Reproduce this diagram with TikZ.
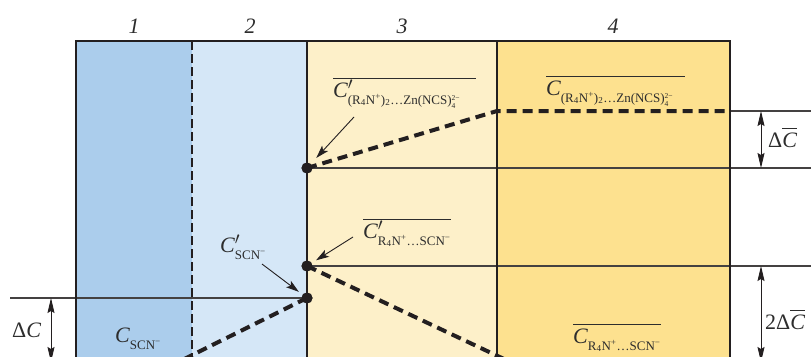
\documentclass[tikz,border=0pt]{standalone}
\usepackage{fontspec}
\setmainfont{Liberation Serif}
\usetikzlibrary{arrows.meta}
\definecolor{colA}{RGB}{171,205,236}
\definecolor{colB}{RGB}{213,231,247}
\definecolor{colC}{RGB}{253,240,201}
\definecolor{colD}{RGB}{253,225,143}
\definecolor{ink}{RGB}{35,31,32}
\definecolor{txt}{RGB}{45,45,45}
\newcommand{\bigf}{\fontsize{22}{24}\selectfont}
\newcommand{\subf}{\fontsize{13}{14}\selectfont}
\newcommand{\Cs}{{\itshape C}}
\newcommand{\pr}{\rlap{\smash{\raisebox{-2pt}{\fontsize{27}{27}\selectfont$'$}}}}
\newcommand{\lowsub}[1]{\raisebox{-7pt}{\subf #1}}
\newcommand{\ovl}[1]{\vbox{\hrule height 0.8pt\kern 4pt\hbox{#1}}}
\newcommand{\stk}{\raisebox{-4.5pt}{\fontsize{7.5}{7}\selectfont\shortstack[l]{2−\\4}}}
\begin{document}
\begin{tikzpicture}[x=1pt,y=-1pt,
  lab/.style={inner sep=0pt, anchor=base west, text=txt, font=\bigf},
  num/.style={inner sep=0pt, anchor=base, text=txt, font=\bigf\itshape},
  dot/.style={circle, fill=ink, inner sep=0pt, minimum size=11pt},
  thin/.style={draw=ink!85, line width=1.1pt},
  border/.style={draw=ink, line width=1.2pt},
  thick dash/.style={draw=ink, line width=4pt, dash pattern=on 10pt off 6pt},
  ptr/.style={draw=ink, line width=0.9pt, -{Stealth[length=13pt,width=8pt,inset=3pt]}},
  dbl/.style={draw=ink, line width=0.9pt, {Stealth[length=15pt,width=7pt,inset=2pt]}-{Stealth[length=15pt,width=7pt,inset=2pt]}}]
\clip (0,0) rectangle (811,356);
% column fills
\fill[colA] (76,41) rectangle (192,370);
\fill[colB] (192,41) rectangle (307,370);
\fill[colC] (307,41) rectangle (497,370);
\fill[colD] (497,41) rectangle (730,370);
% column numbers
\node[num] (n1) at (134,33) {1};
\node[num] (n2) at (250,33) {2};
\node[num] (n3) at (402,33) {3};
\node[num] (n4) at (613,33) {4};
% dots
\node[dot] (d1) at (307,168) {};
\node[dot] (d2) at (307,266) {};
\node[dot] (d3) at (307,298) {};
% helper coordinates
\coordinate (k1) at (497,111);
\coordinate (k2) at (730,111);
\coordinate (e111) at (811,111);
\coordinate (e168) at (811,168);
\coordinate (e266) at (811,266);
\coordinate (w298) at (10,298);
\coordinate (low2) at (540,376);
\coordinate (low3) at (150,376);
% thin horizontal lines
\draw[thin] (k2) -- (e111);
\draw[thin] (d1.center) -- (e168);
\draw[thin] (d2.center) -- (e266);
\draw[thin] (w298) -- (d3.center);
% border
\draw[border] (76,370) -- (76,41) -- (730,41) -- (730,370);
\draw[border] (307,41) -- (307,370);
\draw[border] (497,41) -- (497,370);
\draw[border, dash pattern=on 9pt off 4pt] (192,41) -- (192,370);
% thick dashed profiles
\draw[thick dash] (d1.center) -- (k1) -- (k2);
\draw[thick dash] (d2.center) -- (low2);
\draw[thick dash] (d3.center) -- (low3);
% redraw dots on top
\node[dot] at (d1) {};
\node[dot] at (d2) {};
\node[dot] at (d3) {};
% labels
\node[lab] (l1) at (333,97) {\ovl{\Cs\pr\lowsub{(R\textsubscript{4}N\textsuperscript{+})\textsubscript{2}…Zn(NCS)\stk}\kern16pt}};
\node[lab] (l2) at (546,95) {\ovl{\Cs\lowsub{(R\textsubscript{4}N\textsuperscript{+})\textsubscript{2}…Zn(NCS)\stk}\kern12pt}};
\node[lab] (l3) at (363,238) {\ovl{\Cs\pr\lowsub{R\textsubscript{4}N\textsuperscript{+}…SCN\textsuperscript{−}}}};
\node[lab] (l4) at (220,252) {\Cs\pr\lowsub{SCN\textsuperscript{−}}};
\node[lab] (l5) at (115,342) {\Cs\lowsub{SCN\textsuperscript{−}}};
\node[lab] (l6) at (573,343) {\ovl{\Cs\lowsub{R\textsubscript{4}N\textsuperscript{+}…SCN\textsuperscript{−}}}};
\node[lab] (l7) at (768,147) {Δ\ovl{\Cs}};
\node[lab] (l8) at (765,329) {2Δ\ovl{\Cs}};
\node[lab] (l9) at (12,337) {Δ\Cs};
% pointer arrows
\coordinate (p1) at (354,117);
\coordinate (p2) at (353,237);
\coordinate (p3) at (262,264);
\draw[ptr, shorten >=8pt] (p1) -- (d1);
\draw[ptr, shorten >=5pt] (p2) -- (d2);
\draw[ptr, shorten >=4.5pt] (p3) -- (d3);
% dimension arrows
\coordinate (r1t) at (761,111);
\coordinate (r1b) at (761,168);
\coordinate (r2t) at (761,266);
\coordinate (r2b) at (761,362);
\coordinate (r3t) at (51,298);
\coordinate (r3b) at (51,362);
\draw[dbl] (r1t) -- (r1b);
\draw[dbl] (r2t) -- (r2b);
\draw[dbl] (r3t) -- (r3b);
\end{tikzpicture}
\end{document}
